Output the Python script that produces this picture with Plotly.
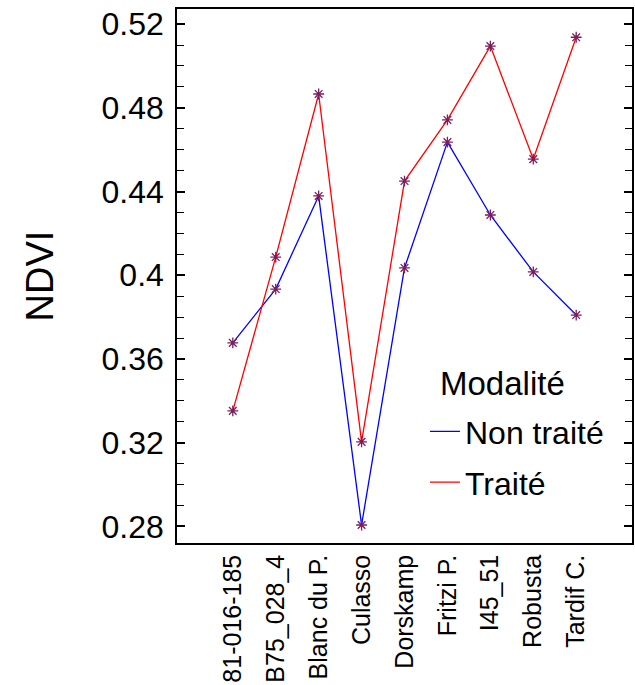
import plotly.graph_objects as go

# Clone labels (x axis)
clones = ["81-016-185", "B75_028_4", "Blanc du P.", "Culasso", "Dorskamp",
          "Fritzi P.", "I45_51", "Robusta", "Tardif C."]

# Mean NDVI per clone and treatment
ndvi_non_traite = [0.3677, 0.3934, 0.4379, 0.2807, 0.4035, 0.4636, 0.4288, 0.4016, 0.3810]
ndvi_traite = [0.3352, 0.4087, 0.4866, 0.3204, 0.4450, 0.4742, 0.5095, 0.4555, 0.5137]

y_ticks = [0.28, 0.32, 0.36, 0.40, 0.44, 0.48, 0.52]
y_tick_text = ["0.28", "0.32", "0.36", "0.4", "0.44", "0.48", "0.52"]

FONT = "Liberation Sans, Arial, sans-serif"
MARKER_COLOR = "#7a1f5c"

x_idx = list(range(len(clones)))

fig = go.Figure()

series = [("Non traité", ndvi_non_traite, "#0000ff"),
          ("Traité", ndvi_traite, "#ff0000")]

for name, vals, col in series:
    fig.add_trace(go.Scatter(
        x=x_idx, y=vals, mode="lines", name=name,
        legendgroup=name,
        line=dict(color=col, width=1.3),
    ))

for name, vals, col in series:
    fig.add_trace(go.Scatter(
        x=x_idx, y=vals, mode="markers", showlegend=False,
        marker=dict(symbol="asterisk-open", size=9, color=MARKER_COLOR,
                    line=dict(color=MARKER_COLOR, width=1.3)),
    ))

# Legend heading drawn above the legend entries
fig.add_annotation(
    text="Modalité", xref="paper", yref="paper", x=0.7155, y=0.2996,
    xanchor="center", yanchor="middle", showarrow=False,
    font=dict(size=33, family=FONT, color="black"),
)

fig.update_layout(
    width=635, height=685,
    margin=dict(l=177, r=1, t=9, b=142),
    paper_bgcolor="white", plot_bgcolor="white",
    font=dict(family=FONT, color="black"),
    showlegend=True,
    legend=dict(
        x=0.545, y=0.26, xanchor="left", yanchor="top",
        bgcolor="rgba(0,0,0,0)",
        font=dict(size=32, family=FONT),
        tracegroupgap=6,
    ),
    xaxis=dict(
        range=[-1.3, 9.3],
        tickmode="array", tickvals=x_idx, ticktext=clones,
        tickangle=-90, tickfont=dict(size=25, family=FONT),
        ticks="", showgrid=False, zeroline=False,
        showline=True, linecolor="black", linewidth=1.5, mirror=True,
    ),
    yaxis=dict(
        range=[0.2721, 0.5272],
        tickmode="array", tickvals=y_ticks, ticktext=y_tick_text,
        tickfont=dict(size=32, family=FONT),
        ticks="inside", ticklen=8, tickwidth=1.6, tickcolor="black",
        ticklabelstandoff=5,
        minor=dict(tickmode="linear", tick0=0.28, dtick=0.01, ticks="inside",
                   ticklen=7, tickwidth=1.4, tickcolor="black"),
        showgrid=False, zeroline=False,
        showline=True, linecolor="black", linewidth=1.5, mirror="allticks",
        title=dict(text="NDVI", font=dict(size=38, family=FONT), standoff=36),
    ),
)

fig.write_html("out.html")
